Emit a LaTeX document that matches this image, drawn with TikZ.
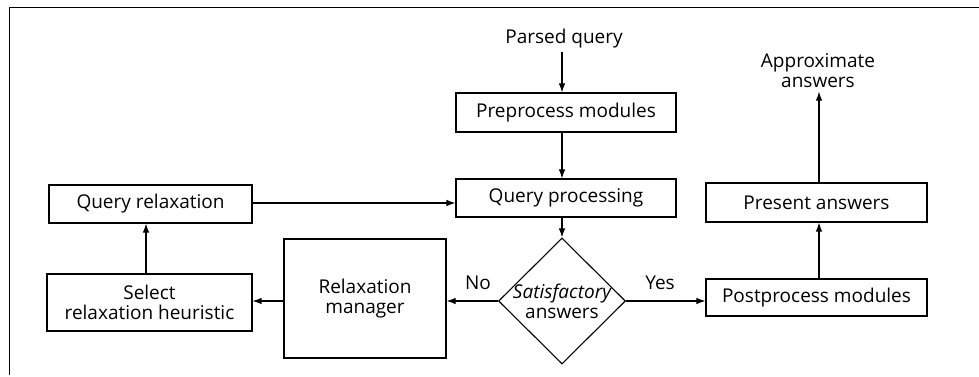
\documentclass[tikz,border=0pt]{standalone}
\usepackage{fontspec}
\setmainfont{Open Sans}
\usetikzlibrary{shapes.geometric,arrows.meta}

\begin{document}
\begin{tikzpicture}[x=1pt,y=1pt,
	every node/.style={font=\fontsize{19}{20}\selectfont},
	box/.style={draw,line width=1.1pt,inner sep=0pt,align=center},
	decision/.style={draw,diamond,line width=1.1pt,inner sep=-6pt,align=center,minimum width=127pt,minimum height=126pt},
	flow/.style={line width=1.1pt,-{Latex[length=9pt,width=6.5pt]}}]
\useasboundingbox (0,0) rectangle (979,377);
\draw[line width=1pt] (9,2) -- (9,369) -- (979,369);

\node (parsed) at (564,338) {Parsed query};
\node[box,minimum width=220pt,minimum height=39pt] (pre) at (566,264.5) {Preprocess modules};
\node[box,minimum width=220pt,minimum height=38pt] (proc) at (566,179) {Query processing};
\node[decision] (sat) at (562,76) {\itshape Satisfactory\\answers};
\node[box,minimum width=203pt,minimum height=38pt] (relax) at (150.5,173) {Query relaxation};
\node[box,minimum width=205pt,minimum height=57pt] (select) at (149.5,74.5) {Select\\relaxation heuristic};
\node[box,minimum width=162pt,minimum height=119pt] (manager) at (365,78.5) {Relaxation\\manager};
\node[box,minimum width=221pt,minimum height=37pt] (post) at (816.5,79.5) {Postprocess modules};
\node[box,minimum width=221pt,minimum height=39pt] (present) at (816.5,174.5) {Present answers};
\node[align=center] (approx) at (818,306) {Approximate\\answers};
\node (no) at (478,94) {No};
\node (yes) at (660,94) {Yes};

\draw[flow] (parsed.south -| sat.north) -- (pre.north -| sat.north);
\draw[flow] (pre.south -| sat.north) -- (proc.north -| sat.north);
\draw[flow] (proc.south -| sat.north) -- (sat.north);
\draw[flow] (relax.east |- 0,174) -- (proc.west |- 0,174);
\draw[flow] (sat.west) -- (sat.west -| manager.east);
\draw[flow] (manager.west |- sat.west) -- (select.east |- sat.west);
\draw[flow] (select.north -| 146,0) -- (relax.south -| 146,0);
\draw[flow] (sat.east) -- (sat.east -| post.west);
\draw[flow] (post.north -| 819,0) -- (present.south -| 819,0);
\draw[flow] (present.north -| 819,0) -- (approx.south -| 819,0);
\end{tikzpicture}
\end{document}
